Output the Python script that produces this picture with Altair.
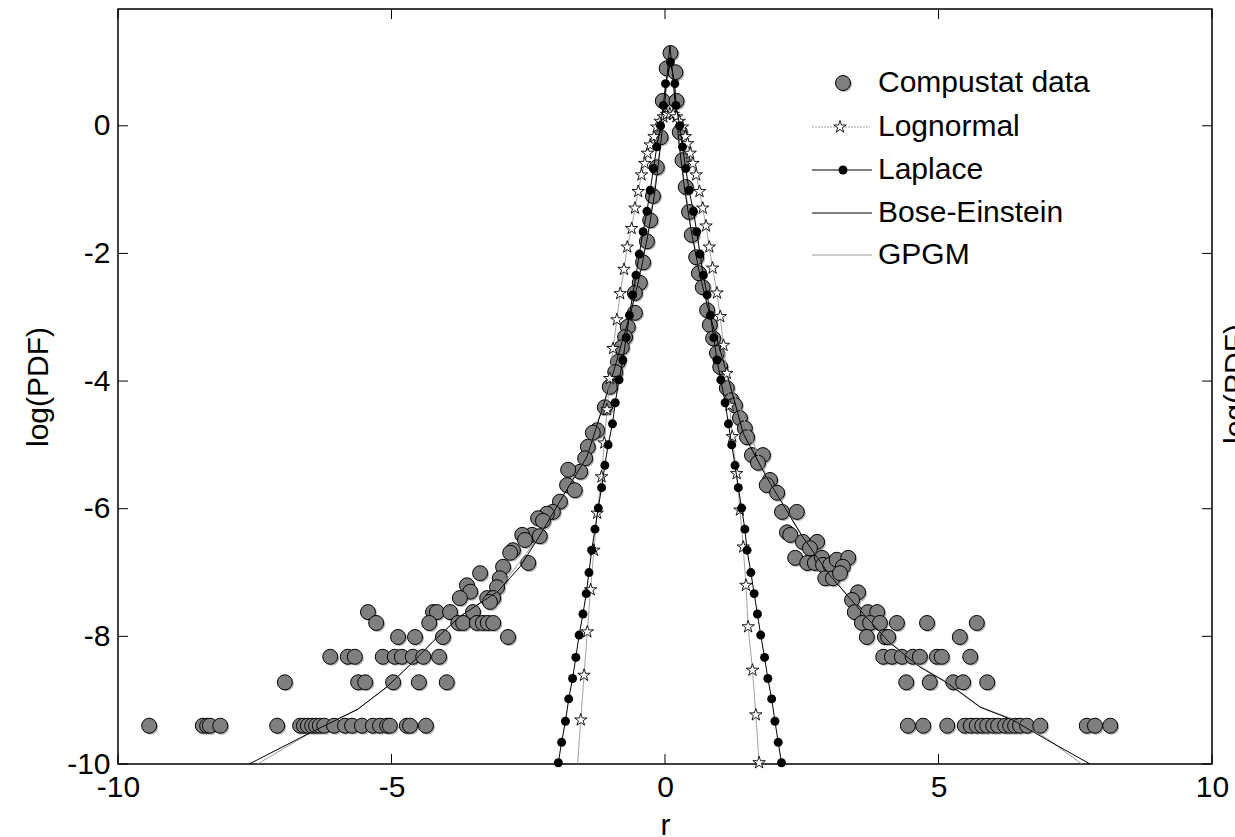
import altair as alt
import pandas as pd

# ---------------- data ----------------
# Compustat data: peak and the two continuous flanks
comp_peak_x = [0.10, 0.03, 0.19, -0.04, 0.21]
comp_peak_y = [1.14, 0.90, 0.84, 0.39, 0.39]

comp_left_x = [-0.08, -0.15, -0.22, -0.27, -0.33, -0.40, -0.46, -0.55, -0.55, -0.68,
               -0.73, -0.79, -0.86, -0.91, -1.01, -1.10, -1.24, -1.32, -1.41, -1.46,
               -1.55, -1.77, -1.79, -1.65, -1.92, -2.05, -2.16, -2.32, -2.23, -2.43,
               -2.61, -2.29, -2.56, -2.78, -2.83, -2.50, -2.96, -3.38, -3.02, -3.07,
               -3.62, -3.56, -3.75, -3.25, -3.14, -3.20, -2.87]
comp_left_y = [-0.18, -0.65, -1.10, -1.48, -1.81, -2.14, -2.46, -2.62, -2.93, -3.15,
               -3.31, -3.47, -3.70, -3.86, -4.09, -4.41, -4.77, -4.81, -5.03, -5.21,
               -5.42, -5.39, -5.63, -5.71, -5.89, -6.05, -6.08, -6.15, -6.19, -6.41,
               -6.41, -6.43, -6.49, -6.65, -6.69, -6.85, -6.91, -7.01, -7.09, -7.23,
               -7.20, -7.30, -7.40, -7.40, -7.40, -7.46, -8.01]

comp_right_x = [0.27, 0.32, 0.38, 0.44, 0.49, 0.57, 0.62, 0.69, 0.77, 0.82,
                0.88, 0.95, 1.01, 1.13, 1.22, 1.28, 1.37, 1.46, 1.50, 1.59,
                1.79, 1.70, 1.92, 1.86, 2.05, 2.14, 2.41, 2.23, 2.29, 2.52,
                2.78, 2.65, 2.38, 2.60, 2.74, 2.87, 2.89, 3.02, 3.14, 3.35,
                3.25, 2.93, 3.07, 3.20, 3.53, 3.42]
comp_right_y = [-0.10, -0.54, -0.96, -1.35, -1.71, -2.06, -2.31, -2.53, -2.89, -3.12,
                -3.33, -3.56, -3.78, -4.11, -4.30, -4.38, -4.58, -4.74, -4.88, -5.16,
                -5.16, -5.28, -5.55, -5.63, -5.75, -6.05, -6.05, -6.37, -6.41, -6.52,
                -6.52, -6.62, -6.77, -6.85, -6.85, -6.77, -6.88, -6.88, -6.80, -6.77,
                -6.91, -7.09, -7.09, -7.01, -7.31, -7.43]

# Compustat data: sparse tails sit on discrete levels
tail_levels = [-7.62, -7.79, -8.01, -8.32, -8.72, -9.40]
tail_x = [
    [-5.43, -4.24, -4.17, -3.93, -3.51, 3.47, 3.71, 3.88],
    [-5.28, -4.31, -3.78, -3.69, -3.44, -3.33, -3.24, -3.14, 3.60, 3.75, 3.93, 4.24, 4.79, 5.70],
    [-4.88, -4.57, -4.06, 3.69, 4.02, 4.08, 5.39],
    [-6.12, -5.80, -5.67, -5.16, -4.94, -4.81, -4.61, -4.42, -4.13,
     3.99, 4.15, 4.33, 4.53, 4.66, 4.97, 5.06, 5.58],
    [-6.95, -5.61, -5.48, -4.97, -4.50, -3.99, 4.41, 4.84, 5.27, 5.45, 5.89],
    [-9.43, -8.45, -8.37, -8.32, -8.13, -7.09, -6.67, -6.60, -6.53, -6.45, -6.38, -6.31,
     -6.23, -6.05, -5.85, -5.72, -5.54, -5.34, -5.21, -5.08, -5.03, -4.72, -4.66, -4.37,
     4.44, 4.72, 5.16, 5.48, 5.59, 5.70, 5.80, 5.89, 6.00, 6.09, 6.22, 6.31, 6.40, 6.49,
     6.62, 6.86, 7.71, 7.86, 8.14],
]

# Lognormal fit
logn_x = [-1.60, -1.54, -1.48, -1.42, -1.36, -1.30, -1.24, -1.16, -1.11, -1.06, -1.01,
          -0.95, -0.88, -0.82, -0.75, -0.69, -0.61, -0.55, -0.49, -0.43, -0.37, -0.32,
          -0.27, -0.20, -0.15, -0.09, -0.03, 0.03, 0.09, 0.15, 0.21, 0.26, 0.32, 0.37,
          0.41, 0.46, 0.51, 0.57, 0.63, 0.69, 0.75, 0.81, 0.87, 0.95, 1.01, 1.07, 1.13,
          1.18, 1.23, 1.31, 1.37, 1.43, 1.48, 1.52, 1.60, 1.66, 1.72]
logn_y = [-10.03, -9.31, -8.61, -7.93, -7.27, -6.65, -6.07, -5.50, -4.97, -4.45, -3.96,
          -3.49, -3.04, -2.63, -2.25, -1.90, -1.61, -1.29, -1.03, -0.77, -0.59, -0.43,
          -0.30, -0.17, -0.02, 0.07, 0.14, 0.18, 0.19, 0.18, 0.14, 0.07, -0.02, -0.17,
          -0.28, -0.43, -0.59, -0.77, -1.03, -1.29, -1.57, -1.90, -2.23, -2.62, -2.99,
          -3.44, -3.88, -4.38, -4.87, -5.45, -6.02, -6.60, -7.20, -7.85, -8.53, -9.23,
          -9.98]

# Laplace fit
lap_x = [-1.95, -1.89, -1.82, -1.76, -1.69, -1.63, -1.57, -1.50, -1.44, -1.39, -1.34,
         -1.28, -1.22, -1.16, -1.10, -1.04, -0.96, -0.91, -0.84, -0.77, -0.71, -0.65,
         -0.59, -0.53, -0.47, -0.40, -0.33, -0.27, -0.21, -0.15, -0.08, -0.03, 0.01,
         0.10, 0.18, 0.20, 0.27, 0.32, 0.38, 0.44, 0.52, 0.58, 0.64, 0.70, 0.77, 0.83,
         0.89, 0.95, 1.02, 1.10, 1.16, 1.22, 1.28, 1.34, 1.40, 1.46, 1.50, 1.57, 1.63,
         1.69, 1.75, 1.82, 1.88, 1.95, 2.01, 2.07, 2.13]
lap_y = [-9.98, -9.66, -9.33, -8.98, -8.66, -8.33, -7.98, -7.65, -7.33, -7.00, -6.65,
         -6.32, -5.99, -5.67, -5.32, -5.00, -4.67, -4.34, -3.98, -3.67, -3.32, -2.97,
         -2.65, -2.34, -2.01, -1.66, -1.34, -1.01, -0.67, -0.33, 0.00, 0.32, 0.66,
         1.00, 0.66, 0.32, 0.00, -0.33, -0.67, -1.01, -1.34, -1.66, -2.01, -2.34, -2.65,
         -2.97, -3.32, -3.67, -3.98, -4.34, -4.67, -5.00, -5.32, -5.67, -5.99, -6.32,
         -6.65, -7.00, -7.33, -7.65, -7.98, -8.33, -8.66, -8.98, -9.33, -9.66, -9.98]

# Bose-Einstein fit
be_x = [-7.60, -6.44, -5.63, -5.08, -4.63, -4.24, -3.75, -3.05, -2.65, -2.34, -2.16,
        -1.83, -1.43, -1.19, -1.00, -0.79, -0.60, -0.45, -0.30, -0.18, -0.08, 0.00,
        0.06, 0.09, 0.12, 0.18, 0.26, 0.36, 0.48, 0.63, 0.78, 0.97, 1.18, 1.43, 1.86,
        2.47, 3.02, 3.62, 4.11, 4.66, 5.16, 5.76, 6.36, 6.98, 7.77]
be_y = [-10.00, -9.49, -9.15, -8.79, -8.42, -8.08, -7.69, -7.29, -6.91, -6.49, -6.23,
        -5.75, -5.19, -4.55, -4.03, -3.40, -2.84, -2.30, -1.65, -1.00, -0.30, 0.40,
        1.00, 1.25, 1.00, 0.40, -0.30, -1.00, -1.65, -2.30, -2.84, -3.40, -4.03, -4.82,
        -5.51, -6.38, -7.05, -7.64, -8.10, -8.48, -8.73, -9.11, -9.31, -9.62, -10.00]

# GPGM fit (almost on top of the Bose-Einstein curve)
gp_x = [-7.45, -6.40, -5.60, -5.06, -4.62, -4.23, -3.74, -3.05, -2.34, -1.83, -1.43,
        -1.00, -0.60, -0.30, -0.08, 0.05, 0.09, 0.13, 0.26, 0.48, 0.78, 1.18, 1.86,
        2.47, 3.02, 3.62, 4.11, 4.66, 5.16, 5.76, 6.36, 6.98, 7.62]
gp_y = [-10.00, -9.47, -9.13, -8.78, -8.41, -8.07, -7.68, -7.28, -6.48, -5.74, -5.18,
        -4.02, -2.83, -1.64, -0.29, 0.95, 1.22, 0.95, -0.29, -1.64, -2.83, -4.02, -5.50,
        -6.37, -7.04, -7.63, -8.09, -8.47, -8.72, -9.10, -9.30, -9.60, -10.00]

legend_labels = ["Compustat data", "Lognormal", "Laplace", "Bose-Einstein", "GPGM"]
x_ticks = [-10, -5, 0, 5, 10]
y_ticks = [-10, -8, -6, -4, -2, 0]

# ---------------- build tables ----------------
cx = comp_peak_x + comp_left_x + comp_right_x
cy = comp_peak_y + comp_left_y + comp_right_y
for lvl, xs_ in zip(tail_levels, tail_x):
    cx += xs_
    cy += [lvl] * len(xs_)
comp = pd.DataFrame({"x": cx, "y": cy})
logn = pd.DataFrame({"x": logn_x, "y": logn_y})
logn_vis = logn[logn["y"] >= -10]
lap = pd.DataFrame({"x": lap_x, "y": lap_y})
be = pd.DataFrame({"x": be_x, "y": be_y})
gp = pd.DataFrame({"x": gp_x, "y": gp_y})

W, H = 1094, 755
FONT = "Liberation Sans"
# five-pointed star (pentagram marker) in the unit box
STAR = ("M0,-1L0.2245,-0.309L0.951,-0.309L0.363,0.118L0.588,0.809L0,0.382"
        "L-0.588,0.809L-0.363,0.118L-0.951,-0.309L-0.2245,-0.309Z")

xs = alt.Scale(domain=[-10, 10], nice=False, zero=False)
ys = alt.Scale(domain=[-10, 1.83], nice=False, zero=False)

x_axis = alt.Axis(values=x_ticks, title="r", labelFlush=False, labelOverlap=False,
                  labelPadding=8, labelExpr="'' + datum.value", orient="bottom",
                  titleBaseline="alphabetic", titleY=70)
y_axis = alt.Axis(values=y_ticks, title="log(PDF)", labelFlush=False, labelOverlap=False,
                  labelPadding=8, labelExpr="'' + datum.value", orient="left",
                  titleBaseline="alphabetic", titleX=-71, titleY=H / 2)


def X():
    return alt.X("x:Q", scale=xs, axis=x_axis)


def Y():
    return alt.Y("y:Q", scale=ys, axis=y_axis)


shadow = alt.Chart(comp).mark_point(shape="circle", filled=True, color="#b5b5b5", size=225,
                                    opacity=1, xOffset=1.5, yOffset=1.5).encode(x=X(), y=Y())
circles = alt.Chart(comp).mark_point(shape="circle", filled=True, fill="#7f7f7f",
                                     stroke="black", strokeWidth=1, size=225,
                                     opacity=1).encode(x=X(), y=Y())
gp_line = alt.Chart(gp).mark_line(color="#9a9a9a", strokeWidth=1, clip=True).encode(
    x=X(), y=Y(), order=alt.Order("x:Q"))
be_line = alt.Chart(be).mark_line(color="black", strokeWidth=1, clip=True).encode(
    x=X(), y=Y(), order=alt.Order("x:Q"))
logn_line = alt.Chart(logn).mark_line(color="#8a8a8a", strokeWidth=0.8, clip=True).encode(
    x=X(), y=Y(), order=alt.Order("x:Q"))
logn_pts = alt.Chart(logn_vis).mark_point(shape=STAR, filled=True, fill="white",
                                          stroke="black", strokeWidth=0.9, size=170,
                                          opacity=1).encode(x=X(), y=Y())
lap_line = alt.Chart(lap).mark_line(color="black", strokeWidth=1, clip=True).encode(
    x=X(), y=Y(), order=alt.Order("x:Q"))
lap_pts = alt.Chart(lap).mark_point(shape="circle", filled=True, color="black", size=80,
                                    opacity=1).encode(x=X(), y=Y())

# inward ticks on all four sides
xt = pd.DataFrame({"x": x_ticks})
yt = pd.DataFrame({"y": y_ticks})
ticks = [
    alt.Chart(xt).mark_rule(color="black", strokeWidth=1).encode(
        x=X(), y=alt.value(H), y2=alt.value(H - 10)),
    alt.Chart(xt).mark_rule(color="black", strokeWidth=1).encode(
        x=X(), y=alt.value(0), y2=alt.value(10)),
    alt.Chart(yt).mark_rule(color="black", strokeWidth=1).encode(
        y=Y(), x=alt.value(0), x2=alt.value(10)),
    alt.Chart(yt).mark_rule(color="black", strokeWidth=1).encode(
        y=Y(), x=alt.value(W - 10), x2=alt.value(W)),
]

# legend (inside plot, top right, no frame)
leg_df = pd.DataFrame({"label": legend_labels})
leg_y = [74, 118, 161, 204, 246]
leg = []
for i, yy in enumerate(leg_y):
    leg.append(alt.Chart(leg_df.iloc[[i]]).mark_text(
        align="left", baseline="middle", font=FONT, fontSize=30, color="black").encode(
        text="label:N", x=alt.value(760), y=alt.value(yy)))
one = pd.DataFrame({"k": [0]})
leg += [
    alt.Chart(one).mark_point(shape="circle", filled=True, color="#b5b5b5", size=225,
                              opacity=1, xOffset=1.5, yOffset=1.5).encode(
        x=alt.value(725), y=alt.value(leg_y[0])),
    alt.Chart(one).mark_point(shape="circle", filled=True, fill="#7f7f7f", stroke="black",
                              strokeWidth=1, size=225, opacity=1).encode(
        x=alt.value(725), y=alt.value(leg_y[0])),
    alt.Chart(one).mark_rule(color="#8a8a8a", strokeWidth=0.8, strokeDash=[2, 1]).encode(
        x=alt.value(694), x2=alt.value(752), y=alt.value(leg_y[1])),
    alt.Chart(one).mark_point(shape=STAR, filled=True, fill="white", stroke="black",
                              strokeWidth=0.9, size=170, opacity=1).encode(
        x=alt.value(722), y=alt.value(leg_y[1])),
    alt.Chart(one).mark_rule(color="black", strokeWidth=1).encode(
        x=alt.value(694), x2=alt.value(754), y=alt.value(leg_y[2])),
    alt.Chart(one).mark_point(shape="circle", filled=True, color="black", size=80,
                              opacity=1).encode(x=alt.value(725), y=alt.value(leg_y[2])),
    alt.Chart(one).mark_rule(color="black", strokeWidth=1).encode(
        x=alt.value(694), x2=alt.value(754), y=alt.value(leg_y[3])),
    alt.Chart(one).mark_rule(color="#9a9a9a", strokeWidth=1).encode(
        x=alt.value(694), x2=alt.value(754), y=alt.value(leg_y[4])),
]

# clipped right-hand y title
rt_df = pd.DataFrame({"label": ["log(PDF)"]})
right_title = alt.Chart(rt_df).mark_text(angle=270, align="center", baseline="alphabetic",
                                         font=FONT, fontSize=30, color="black").encode(
    text="label:N", x=alt.value(W + 33), y=alt.value(375))

chart = alt.layer(
    shadow, circles, gp_line, be_line, logn_line, logn_pts, lap_line, lap_pts,
    *ticks, *leg, right_title
).properties(
    width=W, height=H,
    autosize=alt.AutoSizeParams(type="none"),
    padding={"left": 118, "top": 9, "right": 23, "bottom": 73},
    background="white",
).configure_view(
    stroke="black", strokeWidth=1.5
).configure_axis(
    domain=False, grid=False, ticks=False,
    labelFont=FONT, labelFontSize=30, labelColor="black",
    titleFont=FONT, titleFontSize=30, titleColor="black", titleFontWeight="normal",
)

chart.save("out.html", embed_options={"renderer": "svg", "actions": False})
